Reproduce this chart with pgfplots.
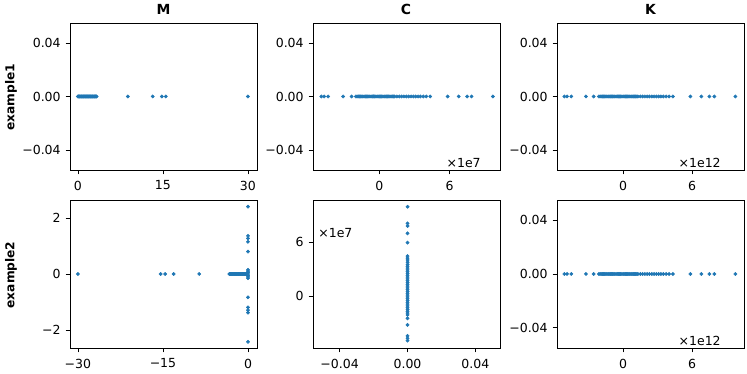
\documentclass[border=0pt]{standalone}
\usepackage{fontspec}
\setmainfont{DejaVu Sans}
\usepackage{pgfplots}
\pgfplotsset{compat=1.18}
\definecolor{mplblue}{HTML}{1F77B4}

% one pixel of the reference = 0.72pt
\pgfplotsset{
  panel/.style={
    scale only axis,
    width=134.64pt,
    anchor=south west,
    scaled x ticks=false, scaled y ticks=false,
    axis line style={line width=0.6pt},
    every tick/.style={line width=0.6pt, black},
    tick align=outside,
    major tick length=3.2pt,
    xtick pos=bottom, ytick pos=left,
    ticklabel style={font=\fontsize{9}{10}\selectfont},
    xticklabel style={yshift=-1pt},
  },
  pts/.style={only marks, color=mplblue, mark=*, mark size=1.15pt,
    mark options={draw=none, fill=mplblue}},
  yzero/.style={ymin=-0.055, ymax=0.055, ytick={-0.04,0,0.04},
    yticklabels={−0.04,0.00,0.04}},
}

% values in units of 1e7 (C) and 1e12 (K)
\def\densepts{(-2.0,0) (-1.9,0) (-1.8,0) (-1.7,0) (-1.6,0) (-1.5,0) (-1.4,0) (-1.3,0)
 (-1.2,0) (-1.1,0) (-1.0,0) (-0.9,0) (-0.8,0) (-0.7,0) (-0.6,0) (-0.5,0) (-0.4,0)
 (-0.3,0) (-0.2,0) (-0.1,0) (0,0) (0.1,0) (0.2,0) (0.3,0) (0.4,0) (0.5,0) (0.6,0)
 (0.7,0) (0.8,0) (0.9,0) (1.0,0) (1.1,0) (1.2,0) (1.3,0) (1.5,0) (1.7,0) (1.9,0)
 (2.1,0) (2.3,0) (2.5,0) (2.7,0) (2.9,0) (3.1,0) (3.3,0) (3.5,0) (3.75,0) (4.0,0) (4.34,0)}

\begin{document}
\begin{tikzpicture}
\useasboundingbox (0,0) rectangle (537.84pt,269.28pt);

% ---- row 1 ----
\begin{axis}[panel, at={(50.4pt,146.88pt)}, height=105.84pt,
  xmin=-1.4, xmax=31.6, xtick={0,15,30}, xticklabels={0,15,30}, yzero]
\addplot[pts] coordinates {(0,0) (0.1,0) (0.2,0) (0.3,0) (0.4,0) (0.5,0) (0.6,0)
 (0.7,0) (0.8,0) (0.9,0) (1.0,0) (1.1,0) (1.2,0) (1.3,0) (1.4,0) (1.5,0) (1.6,0)
 (1.7,0) (1.8,0) (1.9,0) (2.0,0) (2.1,0) (2.2,0) (2.3,0) (2.4,0) (2.5,0) (2.6,0)
 (2.7,0) (2.8,0) (2.9,0) (3.0,0) (3.1,0) (3.2,0) (3.3,0)
 (8.8,0) (13.2,0) (14.8,0) (15.5,0) (30,0)};
\end{axis}

\begin{axis}[panel, at={(225.36pt,146.88pt)}, height=105.84pt,
  xmin=-5.66, xmax=10.29, xtick={0,6}, xticklabels={0,6}, yzero]
\addplot[pts] coordinates {(-4.95,0) (-4.71,0) (-4.37,0) (-3.09,0) (-2.37,0) \densepts
 (5.83,0) (6.77,0) (7.49,0) (7.86,0) (9.69,0)};
\end{axis}

\begin{axis}[panel, at={(401.04pt,146.88pt)}, height=105.84pt,
  xmin=-5.74, xmax=10.52, xtick={0,6}, xticklabels={0,6}, yzero]
\addplot[pts] coordinates {(-5.10,0) (-4.87,0) (-4.50,0) (-3.22,0) (-2.55,0) (-2.1,0) \densepts
 (5.86,0) (6.81,0) (7.51,0) (7.94,0) (9.77,0)};
\end{axis}

% ---- row 2 ----
\begin{axis}[panel, at={(50.4pt,18.72pt)}, height=106.56pt,
  xmin=-31.4, xmax=1.59, xtick={-30,-15,0}, xticklabels={−30,−15,0},
  ymin=-2.64, ymax=2.64, ytick={-2,0,2}, yticklabels={−2,0,2}]
\addplot[pts] coordinates {(-30,0) (-15.4,0) (-14.6,0) (-13.1,0) (-8.6,0)
 (-3.3,0) (-3.2,0) (-3.1,0) (-3.0,0) (-2.9,0) (-2.8,0) (-2.7,0) (-2.6,0) (-2.5,0)
 (-2.4,0) (-2.3,0) (-2.2,0) (-2.1,0) (-2.0,0) (-1.9,0) (-1.8,0) (-1.7,0) (-1.6,0)
 (-1.5,0) (-1.4,0) (-1.3,0) (-1.2,0) (-1.1,0) (-1.0,0) (-0.9,0) (-0.8,0) (-0.7,0)
 (-0.6,0) (-0.5,0) (-0.4,0) (-0.3,0) (-0.2,0) (-0.1,0) (0,0)
 (0,2.40) (0,1.36) (0,1.27) (0,1.15) (0,0.80) (0,0.15) (0,0.10) (0,0.05)
 (0,-0.05) (0,-0.10) (0,-0.15) (0,-0.83) (0,-1.19) (0,-1.29) (0,-1.38) (0,-2.42)};
\end{axis}

\begin{axis}[panel, at={(225.36pt,18.72pt)}, height=106.56pt,
  xmin=-0.0557, xmax=0.0545, xtick={-0.04,0,0.04}, xticklabels={−0.04,0.00,0.04},
  ymin=-5.78, ymax=10.67, ytick={0,6}, yticklabels={0,6}]
\addplot[pts] coordinates {(0,9.92) (0,8.07) (0,7.78) (0,6.97) (0,5.93)
 (0,4.44) (0,4.2) (0,4.0) (0,3.75) (0,3.5) (0,3.3) (0,3.1) (0,2.9) (0,2.7) (0,2.5)
 (0,2.3) (0,2.1) (0,1.9) (0,1.7) (0,1.5) (0,1.3) (0,1.1) (0,0.9) (0,0.7) (0,0.5)
 (0,0.3) (0,0.1) (0,-0.1) (0,-0.3) (0,-0.5) (0,-0.7) (0,-0.9) (0,-1.1) (0,-1.3)
 (0,-1.5) (0,-1.7) (0,-1.9) (0,-2.11)
 (0,-2.48) (0,-3.22) (0,-4.44) (0,-4.70) (0,-4.96)};
\end{axis}

\begin{axis}[panel, at={(401.04pt,18.72pt)}, height=106.56pt,
  xmin=-5.74, xmax=10.52, xtick={0,6}, xticklabels={0,6}, yzero]
\addplot[pts] coordinates {(-5.10,0) (-4.87,0) (-4.50,0) (-3.22,0) (-2.55,0) (-2.1,0) \densepts
 (5.86,0) (6.81,0) (7.51,0) (7.94,0) (9.77,0)};
\end{axis}

% titles, row labels, offset texts
\node[anchor=base, font=\fontsize{10}{12}\selectfont\bfseries] at (117.7pt,258.5pt) {M};
\node[anchor=base, font=\fontsize{10}{12}\selectfont\bfseries] at (292.3pt,258.5pt) {C};
\node[anchor=base, font=\fontsize{10}{12}\selectfont\bfseries] at (468.4pt,258.5pt) {K};
\node[rotate=90, font=\fontsize{8.8}{10}\selectfont\bfseries] at (7.9pt,199.4pt) {example1};
\node[rotate=90, font=\fontsize{8.8}{10}\selectfont\bfseries] at (7.9pt,71.3pt) {example2};
\node[anchor=east, inner sep=0pt, font=\fontsize{9}{10}\selectfont] at (346.3pt,151.9pt) {×1e7};
\node[anchor=east, inner sep=0pt, font=\fontsize{9}{10}\selectfont] at (519.1pt,151.9pt) {×1e12};
\node[anchor=east, inner sep=0pt, font=\fontsize{9}{10}\selectfont] at (519.1pt,23.8pt) {×1e12};
\node[anchor=west, inner sep=0pt, font=\fontsize{9}{10}\selectfont] at (229pt,101.5pt) {×1e7};
\end{tikzpicture}
\end{document}
